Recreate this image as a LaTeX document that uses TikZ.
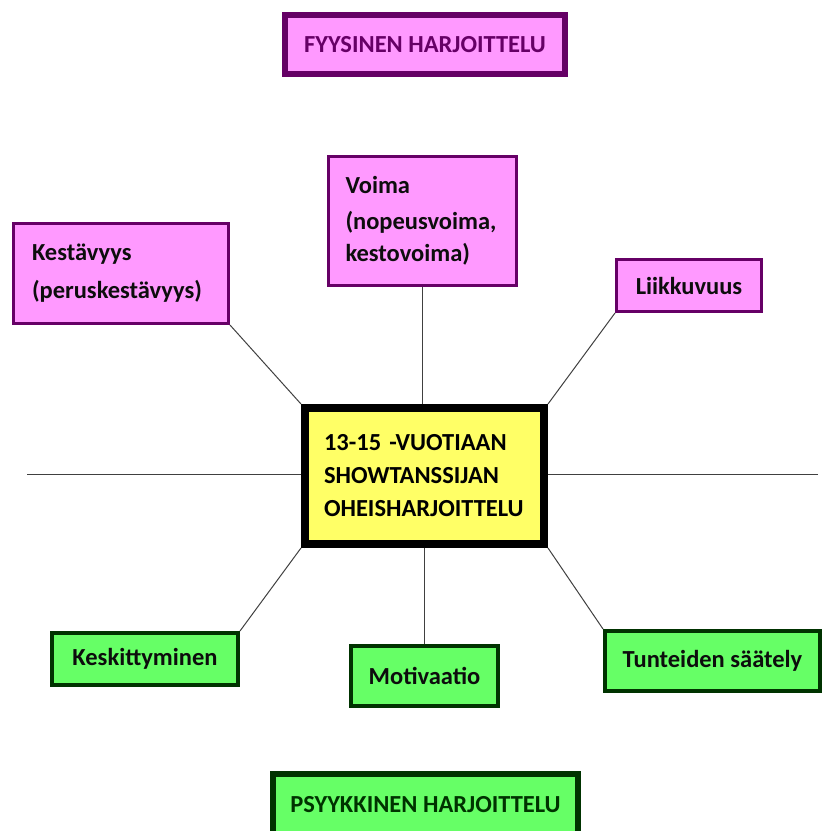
\documentclass[tikz,border=0pt]{standalone}
\usepackage{fontspec}
\setmainfont{Carlito}
\usetikzlibrary{positioning}
\definecolor{pinkfill}{HTML}{FF99FF}
\definecolor{purpleline}{HTML}{660066}
\definecolor{greenfill}{HTML}{66FF66}
\definecolor{greenline}{HTML}{003300}
\definecolor{yellowfill}{HTML}{FFFF66}
\tikzset{
  fyys/.style={draw=purpleline, fill=pinkfill, line width=3pt, inner sep=0pt,
    font=\bfseries\fontsize{24.5}{32}\selectfont, text=black!95},
  psyyk/.style={draw=greenline, fill=greenfill, line width=4pt, inner sep=0pt,
    font=\bfseries\fontsize{24.5}{32}\selectfont, text=black!95},
  haara/.style={line width=1pt, black!75},
}
\begin{document}
\begin{tikzpicture}[x=1pt,y=-1pt]
   \useasboundingbox (0,0) rectangle (822,831);

   % otsikot
   \node[fyys, line width=6pt, minimum width=280pt, minimum height=59pt, text=purpleline]
     (fyysinen) at (425,44.5) {FYYSINEN HARJOITTELU};
   \node[psyyk, line width=6pt, minimum width=305pt, minimum height=62pt, text=greenline]
     (psyykkinen) at (425.5,805) {PSYYKKINEN HARJOITTELU};

   % keskus
   \node[draw=black, fill=yellowfill, line width=8pt, inner sep=0pt,
     minimum width=239pt, minimum height=136pt, text width=201pt, align=left,
     font=\bfseries\fontsize{24.5}{33}\selectfont]
     (keski) at (424.5,476) {13-15 -VUOTIAAN\\SHOWTANSSIJAN\\OHEISHARJOITTELU};

   % fyysiset osat
   \node[fyys, minimum width=188pt, minimum height=129pt, text width=154pt, align=left]
     (voima) at (422.5,221) {Voima\\[4pt](nopeusvoima,\\kestovoima)};
   \node[fyys, minimum width=215pt, minimum height=100pt, text width=178pt, align=left,
     font=\bfseries\fontsize{24.5}{38}\selectfont]
     (kestavyys) at (121,273.5) {Kestävyys\\(peruskestävyys)};
   \node[fyys, minimum width=145pt, minimum height=52pt]
     (liikkuvuus) at (689,285.5) {Liikkuvuus};

   % psyykkiset osat
   \node[psyyk, minimum width=186pt, minimum height=52pt]
     (keskittyminen) at (145,659) {Keskittyminen};
   \node[psyyk, minimum width=147pt, minimum height=60pt]
     (motivaatio) at (424.5,676) {Motivaatio};
   \node[psyyk, minimum width=215pt, minimum height=60pt]
     (tunteet) at (712.5,661) {Tunteiden säätely};

   % yhdysviivat
   \coordinate (vasen) at (27,474);
   \coordinate (oikea) at (818,474);
   \draw[haara] (vasen) -- (vasen -| keski.west);
   \draw[haara] (oikea) -- (oikea -| keski.east);
   \draw[haara] (voima.south) -- (voima.south |- keski.north);
   \draw[haara] (kestavyys.south east) -- (keski.north west);
   \draw[haara] (liikkuvuus.south west) -- (keski.north east);
   \draw[haara] (keski.south west) -- (keskittyminen.north east);
   \draw[haara] (motivaatio.north) -- (motivaatio.north |- keski.south);
   \draw[haara] (keski.south east) -- (tunteet.north west);
\end{tikzpicture}
\end{document}
